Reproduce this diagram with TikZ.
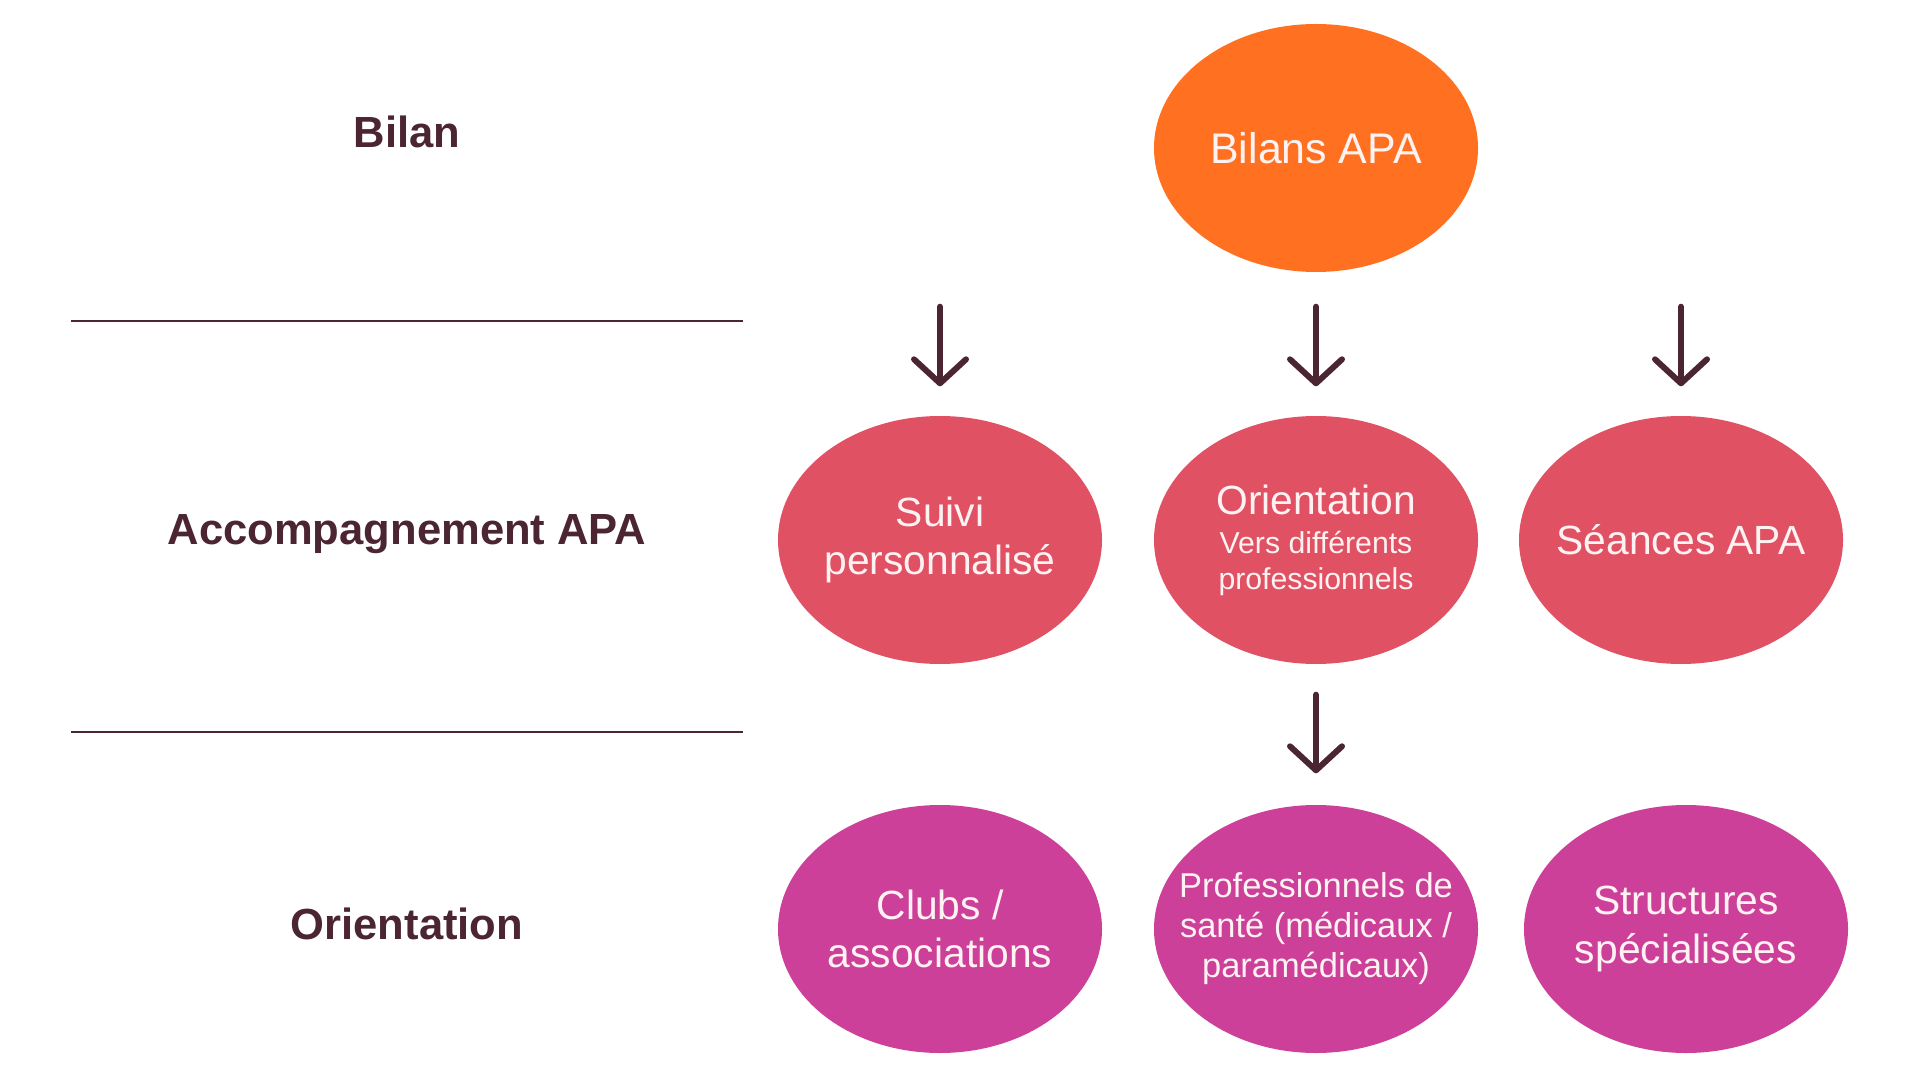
\documentclass[tikz,border=0pt]{standalone}
\usepackage{fontspec}
\setmainfont{Liberation Sans}
\usepackage{xcolor}
\usepackage{tikz}
\usetikzlibrary{positioning,shapes.geometric,arrows.meta,calc}
\definecolor{bilanorange}{RGB}{255,113,32}
\definecolor{suivirose}{RGB}{224,81,100}
\definecolor{orientmagenta}{RGB}{205,64,153}
\definecolor{darkplum}{RGB}{75,37,49}
\definecolor{paletext}{RGB}{255,242,242}
\newcommand{\subtext}{\fontsize{8.6}{10.2}\selectfont}

\begin{document}
\begin{tikzpicture}[
    bubble/.style={ellipse,minimum width=3.24cm,minimum height=2.48cm,inner xsep=-0.4cm,inner ysep=-0.2cm,
      text=paletext,align=center,font=\fontsize{11.6}{13.7}\selectfont},
    rowlabel/.style={text=darkplum,font=\fontsize{12.4}{14}\selectfont\bfseries},
    downarrow/.style={draw=darkplum,line width=1.7pt,line cap=round,
      -{Straight Barb[length=0.24cm,width=0.52cm,line cap=round,line join=round]}},
    sepline/.style={draw=darkplum,line width=0.6pt}]
    \useasboundingbox (0,0) rectangle (19.2,-10.8);
    % row labels
    \node[rowlabel] (lbilan) at (4.07,-1.32) {Bilan};
    \node[rowlabel] (laccomp) at (4.07,-5.34) {Accompagnement APA};
    \node[rowlabel] (lorient) at (4.07,-9.24) {Orientation};
    \draw[sepline] (0.71,-3.21) -- (7.43,-3.21);
    \draw[sepline] (0.71,-7.32) -- (7.43,-7.32);
    % bubbles
    \node[bubble,fill=bilanorange,font=\fontsize{12.2}{14}\selectfont] (bilans) at (13.16,-1.48) {Bilans APA};
    \node[bubble,fill=suivirose] (suivi) at (9.40,-5.40) {Suivi\\personnalisé};
    \node[bubble,fill=suivirose] (orient) at (13.16,-5.40)
      {Orientation\\[-2.5pt]{\subtext Vers différents}\\[-3.5pt]{\subtext professionnels}};
    \node[bubble,fill=suivirose] (seances) at (16.81,-5.40) {Séances APA};
    \node[bubble,fill=orientmagenta] (clubs) at (9.40,-9.29) {Clubs /\\associations};
    \node[bubble,fill=orientmagenta,font=\fontsize{9.8}{11.4}\selectfont] (prof) at (13.16,-9.29)
      {Professionnels de\\santé (médicaux /\\paramédicaux)};
    \node[bubble,fill=orientmagenta] (struct) at (16.86,-9.29) {Structures\\spécialisées};
    % arrows
    \foreach \n in {suivi,orient,seances}
      \draw[downarrow] ($(bilans.south -| \n.north)+(0,-0.34)$) -- ([yshift=0.29cm]\n.north);
    \draw[downarrow] ([yshift=-0.3cm]orient.south) -- ([yshift=0.31cm]prof.north);
\end{tikzpicture}
\end{document}
